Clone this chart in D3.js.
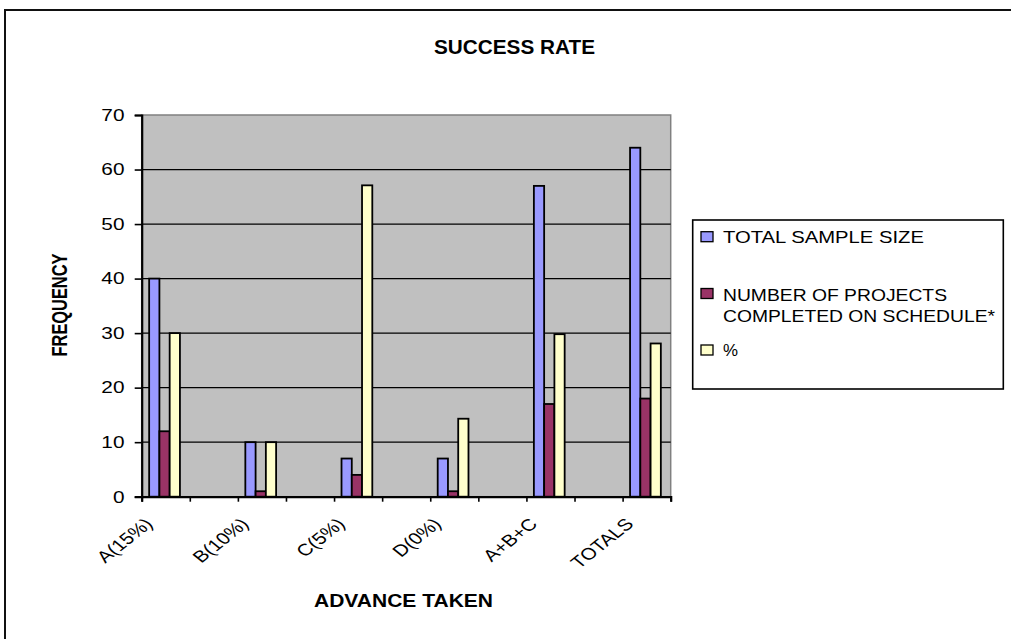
<!DOCTYPE html>
<html><head><meta charset="utf-8">
<script src="https://cdn.jsdelivr.net/npm/d3@7"></script>
<style>body{margin:0;background:#fff} svg{display:block}</style>
</head><body>
<svg id="chart" width="1011" height="639"></svg>
<script>
// ---- data ----
const categories = ["A(15%)", "", "B(10%)", "", "C(5%)", "", "D(0%)", "", "A+B+C", "", "TOTALS"];
const seriesNames = ["TOTAL SAMPLE SIZE", "NUMBER OF PROJECTS|COMPLETED ON SCHEDULE*", "%"];
const totalSampleSize      = [40, null, 10, null, 7,    null, 7,    null, 57,   null, 64];
const completedOnSchedule  = [12, null, 1,  null, 4,    null, 1,    null, 17,   null, 18];
const percentOnSchedule    = [30, null, 10, null, 57.1, null, 14.3, null, 29.8, null, 28.1];
const yTicks = [0, 10, 20, 30, 40, 50, 60, 70];
const titleText = "SUCCESS RATE";
const xTitleText = "ADVANCE TAKEN";
const yTitleText = "FREQUENCY";

// ---- styles / layout ----
const seriesColors = ["#9999FF", "#993366", "#FFFFCC"];
const series = [totalSampleSize, completedOnSchedule, percentOnSchedule];
const plot = {left: 141.7, right: 670.7, top: 115, bottom: 496.7};
const SX = 1.25; // horizontal stretch of the original picture
const font = "'Liberation Sans', Arial, sans-serif";

const svg = d3.select("#chart");

// outer chart border
svg.append("rect").attr("x", 5).attr("y", 10).attr("width", 1100).attr("height", 700)
  .attr("fill", "#fff").attr("stroke", "#111").attr("stroke-width", 2);

const x = d3.scaleBand().domain(d3.range(categories.length)).range([plot.left, plot.right]).padding(0);
const bw = x.bandwidth();
const xs = d3.scaleBand().domain(d3.range(series.length)).range([bw * 0.155, bw * 0.795]).padding(0);
const y = d3.scaleLinear().domain([0, 70]).range([plot.bottom, plot.top]);
const xb = d3.scaleLinear().domain([0, categories.length]).range([plot.left, plot.right]);

// plot area
svg.append("rect").attr("x", plot.left).attr("y", plot.top)
  .attr("width", plot.right - plot.left).attr("height", plot.bottom - plot.top)
  .attr("fill", "#C0C0C0").attr("stroke", "#808080").attr("stroke-width", 1.5);

// gridlines
svg.append("g").selectAll("line").data(yTicks.filter(t => t > 0 && t < 70)).join("line")
  .attr("x1", plot.left).attr("x2", plot.right)
  .attr("y1", d => y(d)).attr("y2", d => y(d))
  .attr("stroke", "#000").attr("stroke-width", 1.3);

// bars
series.forEach((vals, s) => {
  svg.append("g").selectAll("rect")
    .data(vals.map((v, i) => ({v, i})).filter(d => d.v != null))
    .join("rect")
    .attr("x", d => x(d.i) + xs(s))
    .attr("width", xs.bandwidth())
    .attr("y", d => y(d.v))
    .attr("height", d => y(0) - y(d.v))
    .attr("fill", seriesColors[s]).attr("stroke", "#000").attr("stroke-width", 1.8);
});

// y axis
const yAxis = svg.append("g").attr("transform", `translate(${plot.left},0)`)
  .call(d3.axisLeft(y).tickValues(yTicks).tickSize(7).tickFormat(""));
yAxis.selectAll("line").attr("stroke", "#000").attr("stroke-width", 1.6);
yAxis.select(".domain").attr("stroke", "#000").attr("stroke-width", 2.2);

svg.append("g").selectAll("text").data(yTicks).join("text")
  .attr("transform", d => `translate(124.5,${y(d) + 5.8}) scale(1.3,1)`)
  .attr("text-anchor", "end").attr("font-family", font).attr("font-size", 16)
  .attr("fill", "#000").text(d => d);

// x axis
const xAxis = svg.append("g").attr("transform", `translate(0,${plot.bottom})`)
  .call(d3.axisBottom(xb).tickValues(d3.range(categories.length + 1)).tickSize(5).tickFormat(""));
xAxis.selectAll("line").attr("stroke", "#000").attr("stroke-width", 1.6);
xAxis.select(".domain").attr("stroke", "#000").attr("stroke-width", 2.2);

svg.append("g").selectAll("text")
  .data(categories.map((c, i) => ({c, i})).filter(d => d.c !== ""))
  .join("text")
  .attr("transform", d => `translate(${x(d.i) + bw / 2 - 12},525) scale(${SX},1) rotate(-45)`)
  .attr("text-anchor", "end").attr("font-family", font).attr("font-size", 16.5)
  .attr("fill", "#000").text(d => d.c);

// titles
svg.append("text").attr("x", 514.5).attr("y", 54).attr("text-anchor", "middle")
  .attr("font-family", font).attr("font-weight", "bold").attr("font-size", 19.5)
  .attr("textLength", 161).attr("lengthAdjust", "spacingAndGlyphs").text(titleText);

svg.append("text").attr("x", 403.5).attr("y", 607).attr("text-anchor", "middle")
  .attr("font-family", font).attr("font-weight", "bold").attr("font-size", 19)
  .attr("textLength", 179).attr("lengthAdjust", "spacingAndGlyphs").text(xTitleText);

svg.append("text").attr("transform", `translate(66.7,305) scale(${SX},1) rotate(-90)`)
  .attr("text-anchor", "middle")
  .attr("font-family", font).attr("font-weight", "bold").attr("font-size", 17)
  .attr("textLength", 103).attr("lengthAdjust", "spacingAndGlyphs").text(yTitleText);

// legend
const lg = svg.append("g");
lg.append("rect").attr("x", 692.7).attr("y", 220).attr("width", 310.6).attr("height", 169)
  .attr("fill", "#fff").attr("stroke", "#000").attr("stroke-width", 1.6);
const legendRows = [
  {sq: 231.7, lines: [{b: 243, w: 201}]},
  {sq: 288.5, lines: [{b: 300.7, w: 224}, {b: 321.7, w: 272}]},
  {sq: 345,   lines: [{b: 355.7, w: 15}]}
];
seriesNames.forEach((name, s) => {
  const row = legendRows[s];
  lg.append("rect").attr("x", 701).attr("y", row.sq).attr("width", 12).attr("height", 10)
    .attr("fill", seriesColors[s]).attr("stroke", "#000").attr("stroke-width", 1.3);
  name.split("|").forEach((ln, k) => {
    lg.append("text").attr("x", 723).attr("y", row.lines[k].b)
      .attr("font-family", font).attr("font-size", 17).attr("fill", "#000")
      .attr("textLength", row.lines[k].w).attr("lengthAdjust", "spacingAndGlyphs")
      .text(ln);
  });
});
</script>
</body></html>
